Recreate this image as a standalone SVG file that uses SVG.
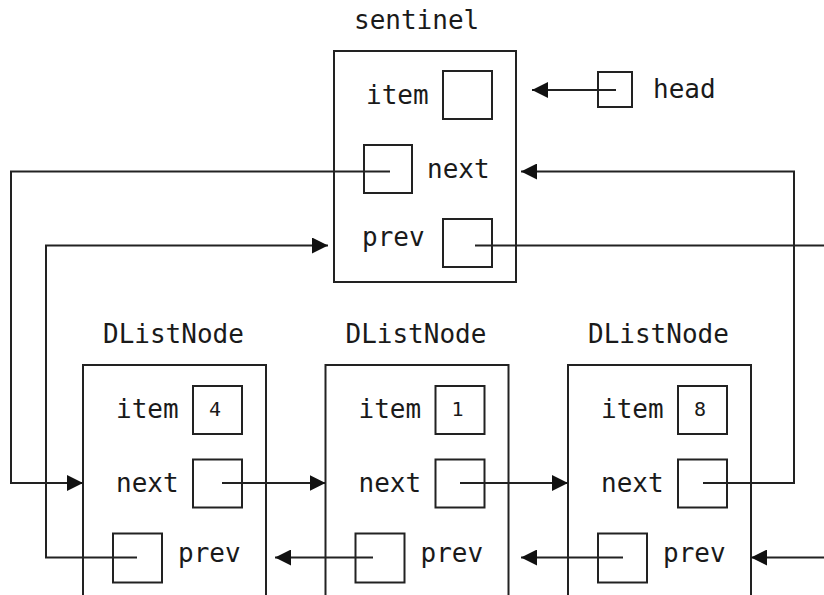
<svg xmlns="http://www.w3.org/2000/svg" width="824" height="595" viewBox="0 0 824 595">
  <style>
    .box { fill: #ffffff; stroke: #222222; stroke-width: 2; }
    .cell { fill: none; stroke: #222222; stroke-width: 2; }
    .lbl { font-family: "DejaVu Sans Mono", "Liberation Mono", monospace; font-size: 26px; fill: #1a1a1a; }
    .val { font-family: "DejaVu Sans Mono", "Liberation Mono", monospace; font-size: 20px; fill: #1a1a1a; text-anchor: middle; }
    .wire { fill: none; stroke: #222222; stroke-width: 2; }
    .arrow { marker-end: url(#head); }
  </style>
  <defs>
    <marker id="head" markerUnits="userSpaceOnUse" markerWidth="16" markerHeight="16" refX="16" refY="8" orient="auto">
      <path d="M0,0 L16,8 L0,16 z" fill="#111111"/>
    </marker>
  </defs>

  <rect width="824" height="595" fill="#ffffff"/>

  <!-- sentinel node -->
  <g id="sentinel">
    <text class="lbl" x="354" y="29">sentinel</text>
    <rect class="box" x="334" y="51" width="182" height="231"/>
    <text class="lbl" x="366" y="104">item</text>
    <rect class="cell" x="443" y="71" width="49" height="48"/>
    <rect class="cell" x="364" y="145" width="48" height="48"/>
    <text class="lbl" x="427" y="178">next</text>
    <text class="lbl" x="362" y="246">prev</text>
    <rect class="cell" x="443" y="219" width="49" height="48"/>
  </g>

  <!-- head reference -->
  <g id="head-ref">
    <rect class="cell" x="598" y="72" width="34" height="35"/>
    <text class="lbl" x="653" y="98">head</text>
  </g>

  <!-- list node holding 4 -->
  <g id="node4">
    <text class="lbl" x="103" y="343">DListNode</text>
    <rect class="box" x="83" y="365" width="183" height="240"/>
    <text class="lbl" x="116" y="418">item</text>
    <rect class="cell" x="193" y="386" width="49" height="48"/>
    <text class="val" x="215" y="416">4</text>
    <text class="lbl" x="116" y="492">next</text>
    <rect class="cell" x="193" y="459.5" width="49" height="48"/>
    <rect class="cell" x="113" y="533.5" width="49" height="49"/>
    <text class="lbl" x="178" y="562">prev</text>
  </g>

  <!-- list node holding 1 -->
  <g id="node1">
    <text class="lbl" x="345.5" y="343">DListNode</text>
    <rect class="box" x="325.5" y="365" width="183" height="240"/>
    <text class="lbl" x="358.5" y="418">item</text>
    <rect class="cell" x="435.5" y="386" width="49" height="48"/>
    <text class="val" x="457.5" y="416">1</text>
    <text class="lbl" x="358.5" y="492">next</text>
    <rect class="cell" x="435.5" y="459.5" width="49" height="48"/>
    <rect class="cell" x="355.5" y="533.5" width="49" height="49"/>
    <text class="lbl" x="420.5" y="562">prev</text>
  </g>

  <!-- list node holding 8 -->
  <g id="node8">
    <text class="lbl" x="588" y="343">DListNode</text>
    <rect class="box" x="568" y="365" width="183" height="240"/>
    <text class="lbl" x="601" y="418">item</text>
    <rect class="cell" x="678" y="386" width="49" height="48"/>
    <text class="val" x="700" y="416">8</text>
    <text class="lbl" x="601" y="492">next</text>
    <rect class="cell" x="678" y="459.5" width="49" height="48"/>
    <rect class="cell" x="598" y="533.5" width="49" height="49"/>
    <text class="lbl" x="663" y="562">prev</text>
  </g>

  <!-- pointers -->
  <g id="connectors">
    <path class="wire arrow" d="M616,90 H532"/>
    <path class="wire arrow" d="M390,171.5 H11 V483 H83"/>
    <path class="wire arrow" d="M137,557.5 H46 V245.5 H328"/>
    <path class="wire" d="M475,245.5 H824"/>
    <path class="wire arrow" d="M222,483 H325.5"/>
    <path class="wire arrow" d="M460,483 H568"/>
    <path class="wire arrow" d="M703,483 H794 V171.5 H521"/>
    <path class="wire arrow" d="M373,557.5 H275"/>
    <path class="wire arrow" d="M623,557.5 H521"/>
    <path class="wire arrow" d="M824,557.5 H751"/>
  </g>
</svg>
